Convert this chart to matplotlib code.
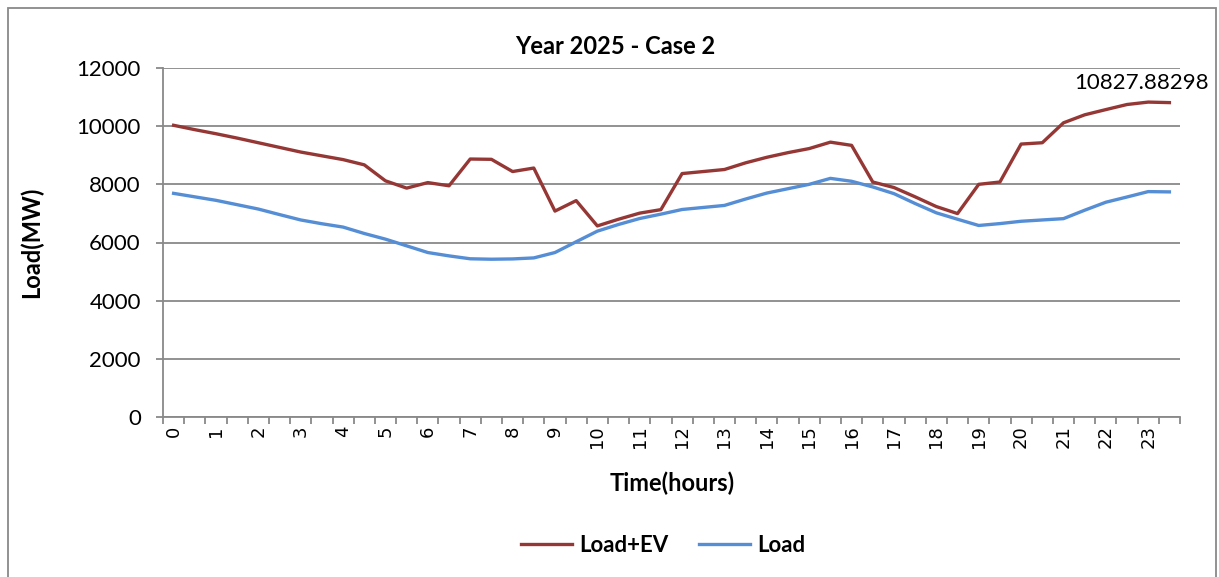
import matplotlib
matplotlib.use("Agg")
import matplotlib.pyplot as plt
import numpy as np
from matplotlib.patches import Rectangle

# Half-hour categories, labelled every hour
hours = np.arange(0, 24, 0.5)
hour_labels = [str(h) for h in range(24)]

load_ev = [10030, 9880, 9740, 9590, 9430, 9270, 9110, 8980,
           8850, 8670, 8120, 7870, 8060, 7950, 8870, 8860,
           8440, 8560, 7080, 7440, 6570, 6800, 7010, 7130,
           8370, 8440, 8510, 8740, 8930, 9090, 9230, 9450,
           9340, 8080, 7890, 7570, 7235, 6995, 8000, 8080,
           9385, 9430, 10115, 10390, 10570, 10745, 10827.88298, 10810]

load = [7690, 7570, 7450, 7300, 7150, 6960, 6775, 6645,
        6530, 6310, 6115, 5885, 5655, 5540, 5440, 5425,
        5435, 5470, 5655, 6025, 6390, 6620, 6825, 6975,
        7135, 7205, 7275, 7495, 7700, 7850, 8000, 8205,
        8105, 7910, 7680, 7340, 7020, 6800, 6585, 6650,
        6730, 6775, 6820, 7110, 7385, 7565, 7750, 7740]

label_idx = 46
red = "#953735"
blue = "#558ed5"
grid_col = "#898989"

plt.rcParams['font.family'] = ['Lato', 'DejaVu Sans']

fig = plt.figure(figsize=(12.19, 5.77), dpi=100)
ax = fig.add_axes([163 / 1219, 1 - 417 / 577, (1180 - 163) / 1219, (417 - 68) / 577])

ax.plot(hours, load_ev, color=red, lw=2.4, label="Load+EV", solid_joinstyle="round")
ax.plot(hours, load, color=blue, lw=2.4, label="Load", solid_joinstyle="round")

ax.annotate(f"{load_ev[label_idx]:.5f}", (hours[label_idx], load_ev[label_idx]),
            xytext=(-7, 9), textcoords="offset pixels", ha="center", va="bottom",
            fontsize=16, annotation_clip=False)

ax.set_xlim(-0.25, 23.75)
ax.set_ylim(0, 12000)
ax.set_yticks(np.arange(0, 12001, 2000))
ax.grid(axis="y", color=grid_col, lw=1.3)
ax.set_axisbelow(True)

ax.set_xticks(np.arange(24))
ax.set_xticklabels(hour_labels, rotation=90, fontsize=13, family="DejaVu Sans")
ax.set_xticks(np.arange(-0.25, 23.8, 0.5), minor=True)
ax.tick_params(axis="x", which="major", length=0, pad=6)
ax.tick_params(axis="x", which="minor", length=5, color=grid_col, width=1.3)
ax.tick_params(axis="y", length=5, color=grid_col, width=1.3, labelsize=16, pad=11)

for s in ["top", "right"]:
    ax.spines[s].set_visible(False)
for s in ["left", "bottom"]:
    ax.spines[s].set_color(grid_col)
    ax.spines[s].set_linewidth(1.3)

fig.text(615 / 1219, 1 - 46 / 577, "Year 2025 - Case 2", ha="center", va="center",
         fontsize=17, fontweight="bold")
fig.text(31 / 1219, 1 - 242 / 577, "Load(MW)", ha="center", va="center",
         rotation=90, fontsize=17, fontweight="bold")
fig.text(672 / 1219, 1 - 483 / 577, "Time(hours)", ha="center", va="center",
         fontsize=17, fontweight="bold")

fig.legend(loc="center", bbox_to_anchor=(663 / 1219, 1 - 545 / 577), ncol=2,
           frameon=False, prop={"weight": "bold", "size": 16},
           handlelength=2.3, handletextpad=0.3, columnspacing=1.4)

fig.patches.append(Rectangle((8 / 1219, -0.02), (1216 - 8) / 1219, 1.02 - 8 / 577,
                             transform=fig.transFigure, fill=False,
                             edgecolor=grid_col, lw=1.3))

fig.savefig("out.png", dpi=100)
